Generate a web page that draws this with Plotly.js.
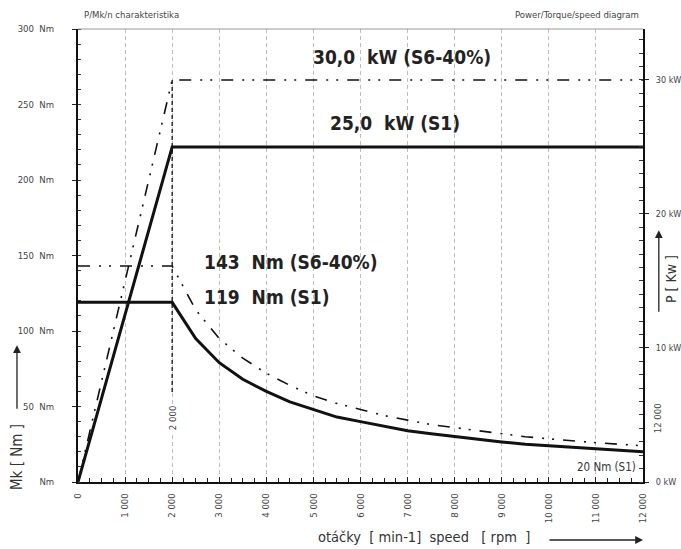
<!DOCTYPE html>
<html>
<head>
<meta charset="utf-8">
<script src="https://cdn.plot.ly/plotly-3.0.1.min.js"></script>
<style>
html,body{margin:0;padding:0;background:#fff;}
#chart{width:681px;height:549px;}
</style>
</head>
<body>
<div id="chart"></div>
<script>
// ---- data ----
const speedTorque = [0, 2000, 2500, 3000, 3500, 4000, 4500, 5000, 5500, 6000, 6500, 7000, 7500, 8000, 8500, 9000, 9500, 10000, 10500, 11000, 11500, 12000];
const torqueS1 = [119, 119, 95, 79, 68, 60, 53, 48, 43, 40, 37, 34, 32, 30, 28, 26.5, 25, 24, 22.7, 21.6, 20.7, 20];
const torqueS6 = [143, 143, 114, 95, 82, 72, 64, 57, 52, 48, 44, 41, 38, 36, 34, 32, 30, 28.6, 27.2, 26, 25, 24];
const speedPower = [0, 2000, 12000];
const powerS1 = [0, 25, 25];
const powerS6 = [0, 30, 30];
const baseSpeed = 2000;
const xTickVals = [0, 1000, 2000, 3000, 4000, 5000, 6000, 7000, 8000, 9000, 10000, 11000, 12000];
const xTickText = ["0", "1 000", "2 000", "3 000", "4 000", "5 000", "6 000", "7 000", "8 000", "9 000", "10 000", "11 000", "12 000"];
const yTickVals = [0, 50, 100, 150, 200, 250, 300];
const yTickText = ["Nm", "50  Nm", "100  Nm", "150  Nm", "200  Nm", "250  Nm", "300  Nm"];
const y2TickVals = [0, 10, 20, 30];
const y2TickText = ["0 kW", "10 kW", "20 kW", "30 kW"];

const FONT = "'Liberation Sans Narrow', 'DejaVu Sans Condensed', 'Roboto', sans-serif";
const dashDot = "12px,9px,2px,8px,2px,9px";

const traces = [
  {x: speedTorque, y: torqueS6, type: 'scatter', mode: 'lines', yaxis: 'y',
   line: {color: '#111', width: 1.6, dash: dashDot}, hoverinfo: 'skip'},
  {x: speedTorque, y: torqueS1, type: 'scatter', mode: 'lines', yaxis: 'y',
   line: {color: '#111', width: 3}, hoverinfo: 'skip'},
  {x: speedPower, y: powerS6, type: 'scatter', mode: 'lines', yaxis: 'y2',
   line: {color: '#111', width: 1.6, dash: dashDot}, hoverinfo: 'skip'},
  {x: speedPower, y: powerS1, type: 'scatter', mode: 'lines', yaxis: 'y2',
   line: {color: '#111', width: 3}, hoverinfo: 'skip'}
];

const tickFont = {family: FONT, size: 9.5, color: '#444'};
const boldFont = {family: FONT, size: 19, color: '#222', weight: 'bold'};

const layout = {
  width: 681, height: 549,
  margin: {l: 78, r: 38, t: 29, b: 67, pad: 0},
  paper_bgcolor: '#fff', plot_bgcolor: '#fff',
  showlegend: false,
  font: {family: FONT, color: '#333'},
  xaxis: {
    range: [0, 12000], tickmode: 'array', tickvals: xTickVals, ticktext: xTickText,
    tickangle: -90, tickfont: tickFont, ticks: 'inside', ticklen: 5, tickcolor: '#222', tickwidth: 1,
    minor: {dtick: 250, ticks: 'inside', ticklen: 4, tickcolor: '#222', showgrid: false},
    showgrid: true, gridcolor: '#bdbdbd', griddash: '4px,3px', gridwidth: 1,
    showline: true, linecolor: '#111', linewidth: 1.5, zeroline: false,
    ticklabelstandoff: 6, fixedrange: true
  },
  yaxis: {
    range: [0, 300], tickmode: 'array', tickvals: yTickVals, ticktext: yTickText,
    tickfont: tickFont, ticks: 'outside', ticklen: 4, tickcolor: '#222', tickwidth: 1,
    minor: {dtick: 10, ticks: 'inside', ticklen: 3, tickcolor: '#333', showgrid: false},
    showgrid: false, showline: true, linecolor: '#111', linewidth: 2, zeroline: false,
    ticklabelstandoff: 16, fixedrange: true
  },
  yaxis2: {
    range: [0, 33.8], overlaying: 'y', side: 'right', tickmode: 'array',
    tickvals: y2TickVals, ticktext: y2TickText,
    tickfont: {family: FONT, size: 9, color: '#444'}, ticks: 'outside', ticklen: 4, tickcolor: '#222', tickwidth: 1,
    minor: {dtick: 1, ticks: 'inside', ticklen: 4, tickcolor: '#333', showgrid: false},
    showgrid: false, showline: true, linecolor: '#111', linewidth: 2, zeroline: false,
    ticklabelstandoff: 5, fixedrange: true
  },
  shapes: [
    {type: 'line', xref: 'paper', yref: 'paper', x0: 0, x1: 1, y0: 1, y1: 1,
     line: {color: '#999', width: 1}},
    {type: 'line', xref: 'x', yref: 'y2', x0: baseSpeed, x1: baseSpeed, y0: 30, y1: 6.5,
     line: {color: '#111', width: 1.3, dash: '4px,3px'}}
  ],
  annotations: [
    {xref: 'paper', yref: 'paper', x: 0.007, y: 1.031, xanchor: 'left', yanchor: 'middle',
     text: 'P/Mk/n charakteristika', showarrow: false, font: {family: FONT, size: 9.5, color: '#444'}},
    {xref: 'paper', yref: 'paper', x: 0.9965, y: 1.031, xanchor: 'right', yanchor: 'middle',
     text: 'Power/Torque/speed diagram', showarrow: false, font: {family: FONT, size: 9.5, color: '#444'}},
    {xref: 'paper', yref: 'paper', x: 0.573, y: 0.938, xanchor: 'center', yanchor: 'middle',
     text: '30,0  kW (S6-40%)', showarrow: false, font: boldFont},
    {xref: 'paper', yref: 'paper', x: 0.561, y: 0.7925, xanchor: 'center', yanchor: 'middle',
     text: '25,0  kW (S1)', showarrow: false, font: boldFont},
    {xref: 'paper', yref: 'paper', x: 0.2195, y: 0.4857, xanchor: 'left', yanchor: 'middle',
     text: '143  Nm (S6-40%)', showarrow: false, font: boldFont},
    {xref: 'paper', yref: 'paper', x: 0.2195, y: 0.408, xanchor: 'left', yanchor: 'middle',
     text: '119  Nm (S1)', showarrow: false, font: boldFont},
    {xref: 'paper', yref: 'paper', x: 0.991, y: 0.033, xanchor: 'right', yanchor: 'middle',
     text: '20 Nm (S1)', showarrow: false, font: {family: FONT, size: 11.5, color: '#333'}},
    {xref: 'paper', yref: 'paper', x: 0.1664, y: 0.141, xanchor: 'center', yanchor: 'middle',
     text: '2 000', textangle: -90, showarrow: false, bgcolor: '#fff', font: {family: FONT, size: 9.5, color: '#444'}},
    {xref: 'paper', yref: 'paper', x: 1.025, y: 0.141, xanchor: 'center', yanchor: 'middle',
     text: '12 000', textangle: -90, showarrow: false, font: {family: FONT, size: 9.5, color: '#444'}},
    {xref: 'paper', yref: 'paper', x: -0.108, y: 0.055, xanchor: 'center', yanchor: 'middle',
     text: 'Mk [ Nm ]', textangle: -90, showarrow: false, font: {family: FONT, size: 15, color: '#333'}},
    {xref: 'paper', yref: 'paper', x: 1.0495, y: 0.448, xanchor: 'center', yanchor: 'middle',
     text: 'P [ Kw ]', textangle: -90, showarrow: false, font: {family: FONT, size: 14, color: '#333'}},
    {xref: 'paper', yref: 'paper', x: 0.612, y: -0.121, xanchor: 'center', yanchor: 'middle',
     text: 'otáčky  [ min-1]  speed   [ rpm  ]', showarrow: false, font: {family: FONT, size: 14.5, color: '#333'}},
    {xref: 'paper', yref: 'paper', x: -0.108, y: 0.302, text: '', showarrow: true,
     ax: 0, ay: 65, arrowhead: 2, arrowsize: 1.2, arrowwidth: 1.3, arrowcolor: '#222'},
    {xref: 'paper', yref: 'paper', x: 1.028, y: 0.556, text: '', showarrow: true,
     ax: 0, ay: 83, arrowhead: 2, arrowsize: 1.2, arrowwidth: 1.3, arrowcolor: '#222'},
    {xref: 'paper', yref: 'paper', x: 1.0, y: -0.128, text: '', showarrow: true,
     ax: -95, ay: 0, arrowhead: 2, arrowsize: 1.2, arrowwidth: 1.3, arrowcolor: '#222'}
  ]
};

Plotly.newPlot('chart', traces, layout, {staticPlot: true, displayModeBar: false});
</script>
</body>
</html>
